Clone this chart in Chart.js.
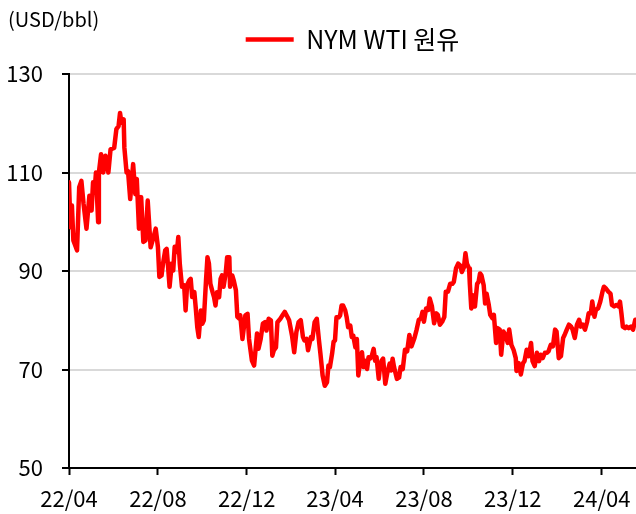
<!DOCTYPE html>
<html>
<head>
<meta charset="utf-8">
<script src="https://cdn.jsdelivr.net/npm/chart.js@4.4.1/dist/chart.umd.min.js"></script>
<style>
  body { margin: 0; background: #fff; }
  canvas { display: block; }
</style>
</head>
<body>
<canvas id="wtiChart" width="636" height="514"></canvas>
<script>
// NYM WTI daily close (USD/bbl)
const dates = [
  '2022-04-01','2022-04-03','2022-04-05','2022-04-07','2022-04-12','2022-04-15','2022-04-18','2022-04-21','2022-04-25','2022-04-29',
  '2022-05-02','2022-05-04','2022-05-06','2022-05-08','2022-05-11','2022-05-12','2022-05-15','2022-05-18','2022-05-21','2022-05-25','2022-05-28',
  '2022-06-02','2022-06-05','2022-06-08','2022-06-10','2022-06-12','2022-06-15','2022-06-16','2022-06-19','2022-06-21','2022-06-24','2022-06-28',
  '2022-07-01','2022-07-03','2022-07-06','2022-07-09','2022-07-12','2022-07-15','2022-07-18','2022-07-22','2022-07-26','2022-07-29',
  '2022-08-01','2022-08-03','2022-08-06','2022-08-08','2022-08-11','2022-08-13','2022-08-15','2022-08-17','2022-08-20','2022-08-22','2022-08-24','2022-08-27','2022-08-29','2022-08-31',
  '2022-09-03','2022-09-06','2022-09-08','2022-09-10','2022-09-13','2022-09-15','2022-09-17','2022-09-20','2022-09-22','2022-09-24','2022-09-26','2022-09-29',
  '2022-10-01','2022-10-03','2022-10-06','2022-10-08','2022-10-10','2022-10-12','2022-10-15','2022-10-17','2022-10-19','2022-10-21','2022-10-24','2022-10-26','2022-10-28','2022-10-30',
  '2022-11-02','2022-11-04','2022-11-07','2022-11-08','2022-11-11','2022-11-13','2022-11-16','2022-11-18','2022-11-21','2022-11-22','2022-11-25','2022-11-29',
  '2022-12-02','2022-12-04','2022-12-08','2022-12-11','2022-12-15','2022-12-17','2022-12-20','2022-12-23','2022-12-26','2022-12-28','2022-12-31',
  '2023-01-03','2023-01-05','2023-01-07','2023-01-10','2023-01-12','2023-01-16','2023-01-19','2023-01-22','2023-01-26','2023-01-28',
  '2023-02-01','2023-02-04','2023-02-07','2023-02-10','2023-02-13','2023-02-16','2023-02-18','2023-02-21','2023-02-23','2023-02-27',
  '2023-03-01','2023-03-04','2023-03-07','2023-03-10','2023-03-12','2023-03-15','2023-03-18','2023-03-21','2023-03-23','2023-03-25','2023-03-28','2023-03-30',
  '2023-04-01','2023-04-03','2023-04-06','2023-04-08','2023-04-10','2023-04-12','2023-04-15','2023-04-17','2023-04-19','2023-04-22','2023-04-24','2023-04-26','2023-04-29',
  '2023-05-01','2023-05-03','2023-05-05','2023-05-08','2023-05-10','2023-05-12','2023-05-15','2023-05-17','2023-05-19','2023-05-21','2023-05-24','2023-05-26','2023-05-28','2023-05-31',
  '2023-06-02','2023-06-04','2023-06-06','2023-06-09','2023-06-12','2023-06-15','2023-06-17','2023-06-19','2023-06-21','2023-06-25','2023-06-28','2023-06-30',
  '2023-07-03','2023-07-06','2023-07-09','2023-07-12','2023-07-15','2023-07-19','2023-07-22','2023-07-25','2023-07-28','2023-07-30',
  '2023-08-01','2023-08-04','2023-08-07','2023-08-09','2023-08-12','2023-08-15','2023-08-18','2023-08-20','2023-08-23','2023-08-26','2023-08-29','2023-08-31',
  '2023-09-03','2023-09-06','2023-09-09','2023-09-11','2023-09-14','2023-09-17','2023-09-20','2023-09-22','2023-09-25','2023-09-27','2023-09-29',
  '2023-10-02','2023-10-03','2023-10-05','2023-10-07','2023-10-10','2023-10-13','2023-10-15','2023-10-17','2023-10-19','2023-10-22','2023-10-24','2023-10-26','2023-10-29','2023-10-31',
  '2023-11-03','2023-11-05','2023-11-08','2023-11-10','2023-11-13','2023-11-15','2023-11-18','2023-11-21','2023-11-24','2023-11-26','2023-11-29',
  '2023-12-02','2023-12-05','2023-12-06','2023-12-09','2023-12-12','2023-12-15','2023-12-17','2023-12-20','2023-12-23','2023-12-26','2023-12-28','2023-12-31',
  '2024-01-03','2024-01-06','2024-01-08','2024-01-11','2024-01-14','2024-01-17','2024-01-19','2024-01-22','2024-01-25','2024-01-28','2024-01-30',
  '2024-02-02','2024-02-05','2024-02-08','2024-02-10','2024-02-13','2024-02-16','2024-02-19','2024-02-21','2024-02-24','2024-02-27',
  '2024-03-01','2024-03-03','2024-03-06','2024-03-09','2024-03-12','2024-03-14','2024-03-17','2024-03-19','2024-03-22','2024-03-24','2024-03-27','2024-03-30',
  '2024-04-02','2024-04-04','2024-04-07','2024-04-10','2024-04-13','2024-04-15','2024-04-18','2024-04-21','2024-04-24','2024-04-26','2024-04-28','2024-04-30',
  '2024-05-03','2024-05-05','2024-05-08','2024-05-11','2024-05-14','2024-05-17'
];

const wti = [
  108,98.9,103.3,96.2,94.2,107,108.3,103.6,98.6,105.3,
  102.3,108,106,110,99.9,110,113.7,110,113.4,110,114.7,
  115,118.8,119.4,122.1,120.1,120.8,115,110,110.3,104.6,111.7,
  105.6,108.7,98.6,105,95.9,96.2,104.3,94.8,96.9,98.6,
  94.9,88.8,89.1,91.5,94.2,94.5,90.8,86.8,91.5,90.1,94.9,93.9,96.9,91.5,
  86.8,87.1,82,87.1,88.1,88.4,84.7,85.7,82.4,78.6,76.6,82,
  79.3,80,88.1,92.8,91.5,87.4,85.7,84.7,83,85.7,84.7,88.4,89.1,86.8,
  89.5,92.8,92.8,86.8,89.1,88.1,86.1,80.7,80.3,81,76.2,81,
  81.3,76.2,71.8,70.8,77.3,74.2,76.2,79.3,79.6,77.9,80.3,
  80,72.8,73.9,74.5,79.6,80.3,81,81.7,80.6,80,
  76.9,73.5,77.6,79.6,80,76.6,75.9,76.2,73.9,76.6,
  76.2,79.6,80.3,75.9,73.2,68.8,66.7,67.4,70.8,70.5,73.2,75.6,
  75.9,80.6,80.6,81,83,83,82,80.6,78.6,78.9,76.6,76.9,74.5,
  76.2,68.8,71.2,73.5,70.5,71.8,70.1,72.5,72.2,72.5,74.2,71.8,72.5,68.1,
  70.8,71.8,72.2,67.1,69.5,71.2,69.8,72.2,70.5,68.1,68.4,70.5,
  70.1,74,73.7,77,74.7,76.4,78.1,80.1,80.4,81.7,
  79.7,82.4,82.1,84.4,82.8,79.4,81.4,81.1,79.1,79.7,80.7,85.8,
  85.8,87.4,87.4,87.8,90.5,91.5,91.1,89.8,90.8,93.6,91.5,
  90.5,87.4,82.4,85.1,82.8,87.4,87.8,89.5,89.1,87.1,83.4,85.4,83.1,81.1,
  80.4,81.1,75.4,78.4,78.1,73,77.7,77,75.4,78.1,75,
  74,72.3,69.7,71.3,69,71.3,71.7,74,72.7,75.4,71.7,70.7,
  73.4,71.7,73,72.3,73.4,73.4,73.7,75,74.7,78.1,77.7,
  72.3,72.7,76.4,77,78.1,79.1,78.7,78.1,76.4,79.1,
  80.1,78.7,79.1,78.1,79.7,81.4,81.4,83.8,80.7,82.1,82.4,83.8,
  85.8,86.8,86.4,85.8,85.4,83.1,82.8,83.1,82.8,83.8,81.4,78.7,
  78.4,78.7,78.4,78.7,78.1,80.1
];

const xTickDates = ['2022-04-01','2022-08-01','2022-12-01','2023-04-01','2023-08-01','2023-12-01','2024-04-01'];
const xTickLabels = ['22/04','22/08','22/12','23/04','23/08','23/12','24/04'];
const yTicks = [50, 70, 90, 110, 130];

const startDate = '2022-04-01';
const endDate = '2024-05-18';
const dayOf = d => (Date.parse(d) - Date.parse(startDate)) / 86400000;

const FONT = "'Noto Sans CJK KR', 'Liberation Sans', sans-serif";

// unit label in the top-left corner
const unitLabel = {
  id: 'unitLabel',
  afterDraw(chart) {
    const c = chart.ctx;
    c.save();
    c.font = '20px ' + FONT;
    c.fillStyle = '#000';
    c.textBaseline = 'middle';
    c.textAlign = 'left';
    c.fillText('(USD/bbl)', 8, 19);
    c.restore();
  }
};

new Chart(document.getElementById('wtiChart'), {
  type: 'line',
  data: {
    datasets: [{
      label: 'NYM WTI 원유',
      data: dates.map((d, i) => ({ x: dayOf(d), y: wti[i] })),
      borderColor: '#ff0000',
      backgroundColor: '#ff0000',
      borderWidth: 4.5,
      borderJoinStyle: 'round',
      borderCapStyle: 'round',
      pointRadius: 0,
      tension: 0
    }]
  },
  options: {
    responsive: false,
    animation: false,
    layout: { padding: { top: 6, right: 0, left: 0, bottom: 0 } },
    plugins: {
      tooltip: { enabled: false },
      legend: {
        position: 'top',
        fullSize: false,
        labels: {
          usePointStyle: true,
          pointStyle: 'line',
          pointStyleWidth: 48,
          padding: 21,
          color: '#000',
          font: { family: FONT, size: 25 }
        }
      },
      // empty subtitle used as a spacer between the legend and the plot
      subtitle: {
        display: true,
        text: '',
        weight: 500,
        font: { size: 1, lineHeight: 1 },
        padding: { top: 11, bottom: 0 }
      }
    },
    scales: {
      x: {
        type: 'linear',
        min: 0,
        max: dayOf(endDate),
        afterFit(scale) {
          scale.height = 46;
          scale.paddingLeft = 0;
          scale.paddingRight = 0;
        },
        afterBuildTicks(scale) {
          scale.ticks = xTickDates.map(d => ({ value: dayOf(d) }));
        },
        ticks: {
          autoSkip: false,
          maxRotation: 0,
          padding: 10,
          color: '#000',
          font: { family: FONT, size: 22 },
          callback: (v, i) => xTickLabels[i]
        },
        grid: {
          drawOnChartArea: false,
          drawTicks: true,
          tickLength: 7,
          tickWidth: 2,
          tickColor: '#000'
        },
        border: { color: '#000', width: 2 }
      },
      y: {
        min: 50,
        max: 130,
        afterFit(scale) { scale.width = 69; },
        afterBuildTicks(scale) {
          scale.ticks = yTicks.map(v => ({ value: v }));
        },
        ticks: {
          padding: 19,
          color: '#000',
          font: { family: FONT, size: 22 }
        },
        grid: {
          color: ctx => (ctx.tick && ctx.tick.value === 50 ? 'rgba(0,0,0,0)' : '#d9d9d9'),
          lineWidth: 2,
          tickLength: 7,
          tickWidth: 2,
          tickColor: '#000'
        },
        border: { color: '#000', width: 2 }
      }
    }
  },
  plugins: [unitLabel]
});
</script>
</body>
</html>
